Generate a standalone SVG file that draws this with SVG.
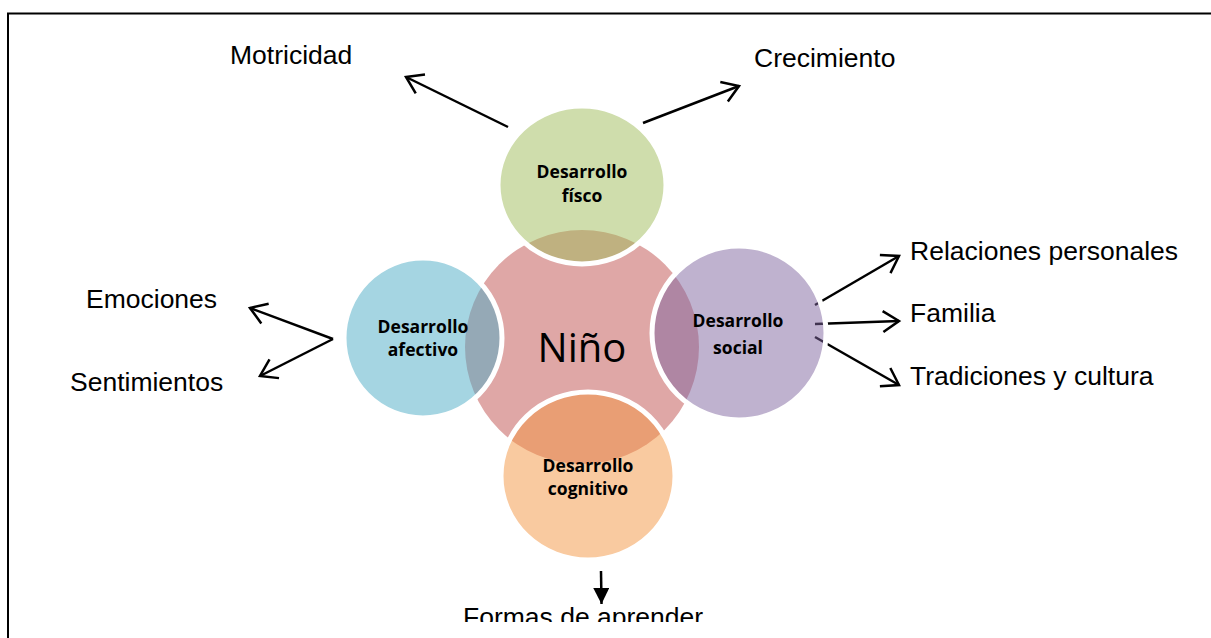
<svg xmlns="http://www.w3.org/2000/svg" width="1211" height="638" viewBox="0 0 1211 638">
<style>
.lbl{font-family:"Liberation Sans",Arial,sans-serif;font-size:26.5px;fill:#000}
.nl{font-family:"Open Sans","Noto Sans",sans-serif;font-weight:bold;font-size:17.5px;fill:#000;text-anchor:middle}
.ring{stroke:#fff;stroke-width:5;fill-opacity:0.5}
.conn{stroke:#000;stroke-width:2.5;fill:none}
</style>
<defs>
<marker id="open" viewBox="0 0 22 22" refX="20" refY="11" markerWidth="22" markerHeight="22" markerUnits="userSpaceOnUse" orient="auto" overflow="visible">
<path d="M4,0.5 L20,11 L4,21.5" fill="none" stroke="#000" stroke-width="2.5"/>
</marker>
<marker id="solid" viewBox="0 0 16 16" refX="16" refY="8" markerWidth="16" markerHeight="16" markerUnits="userSpaceOnUse" orient="auto">
<path d="M0,0 L16,8 L0,16 Z" fill="#000"/>
</marker>
<clipPath id="bottomclip"><rect x="0" y="0" width="1211" height="622"/></clipPath>
</defs>
<rect x="0" y="0" width="1211" height="638" fill="#fff"/>
<g id="frame" stroke="#000" stroke-width="2" fill="none">
<line x1="7" y1="13.5" x2="1211" y2="13.5"/>
<line x1="8" y1="13" x2="8" y2="638"/>
</g>
<g id="connectors">
<line class="conn" x1="508" y1="127" x2="406" y2="77" marker-end="url(#open)"/>
<line class="conn" x1="643" y1="123" x2="739" y2="86" marker-end="url(#open)"/>
<line class="conn" x1="333" y1="339" x2="250" y2="308" marker-end="url(#open)"/>
<line class="conn" x1="333" y1="339" x2="260" y2="376" marker-end="url(#open)"/>
<line class="conn" x1="815" y1="305" x2="899" y2="256" marker-end="url(#open)"/>
<line class="conn" x1="815" y1="324" x2="899" y2="321" marker-end="url(#open)"/>
<line class="conn" x1="815" y1="337" x2="899" y2="385" marker-end="url(#open)"/>
<line x1="601" y1="571" x2="601.5" y2="604" stroke="#000" stroke-width="2.5" marker-end="url(#solid)"/>
</g>
<g id="nino">
<circle cx="582" cy="347" r="117" fill="#DFA7A6"/>
<text x="582" y="362" font-family="'Open Sans','Noto Sans',sans-serif" font-size="40" text-anchor="middle" fill="#000">Niño</text>
</g>
<g id="fisico">
<ellipse class="ring" cx="582" cy="185" rx="84" ry="79" fill="#9FBB59"/>
<text class="nl" x="582" y="178">Desarrollo</text>
<text class="nl" x="582" y="202">físco</text>
</g>
<g id="afectivo">
<ellipse class="ring" cx="423" cy="338" rx="79" ry="80" fill="#4BABC5"/>
<text class="nl" x="423" y="333">Desarrollo</text>
<text class="nl" x="423" y="356">afectivo</text>
</g>
<g id="social">
<circle class="ring" cx="739" cy="333" r="87" fill="#7F66A0"/>
<text class="nl" x="738" y="327">Desarrollo</text>
<text class="nl" x="738" y="354">social</text>
</g>
<g id="cognitivo">
<ellipse class="ring" cx="588" cy="476" rx="87" ry="84" fill="#F39541"/>
<text class="nl" x="588" y="472">Desarrollo</text>
<text class="nl" x="588" y="495">cognitivo</text>
</g>
<g id="labels">
<text class="lbl" x="230" y="64">Motricidad</text>
<text class="lbl" x="754" y="67">Crecimiento</text>
<text class="lbl" x="910" y="260">Relaciones personales</text>
<text class="lbl" x="910" y="322">Familia</text>
<text class="lbl" x="910" y="385">Tradiciones y cultura</text>
<text class="lbl" x="86" y="308">Emociones</text>
<text class="lbl" x="70" y="391">Sentimientos</text>
<text class="lbl" x="463" y="626" clip-path="url(#bottomclip)">Formas de aprender</text>
</g>
</svg>
